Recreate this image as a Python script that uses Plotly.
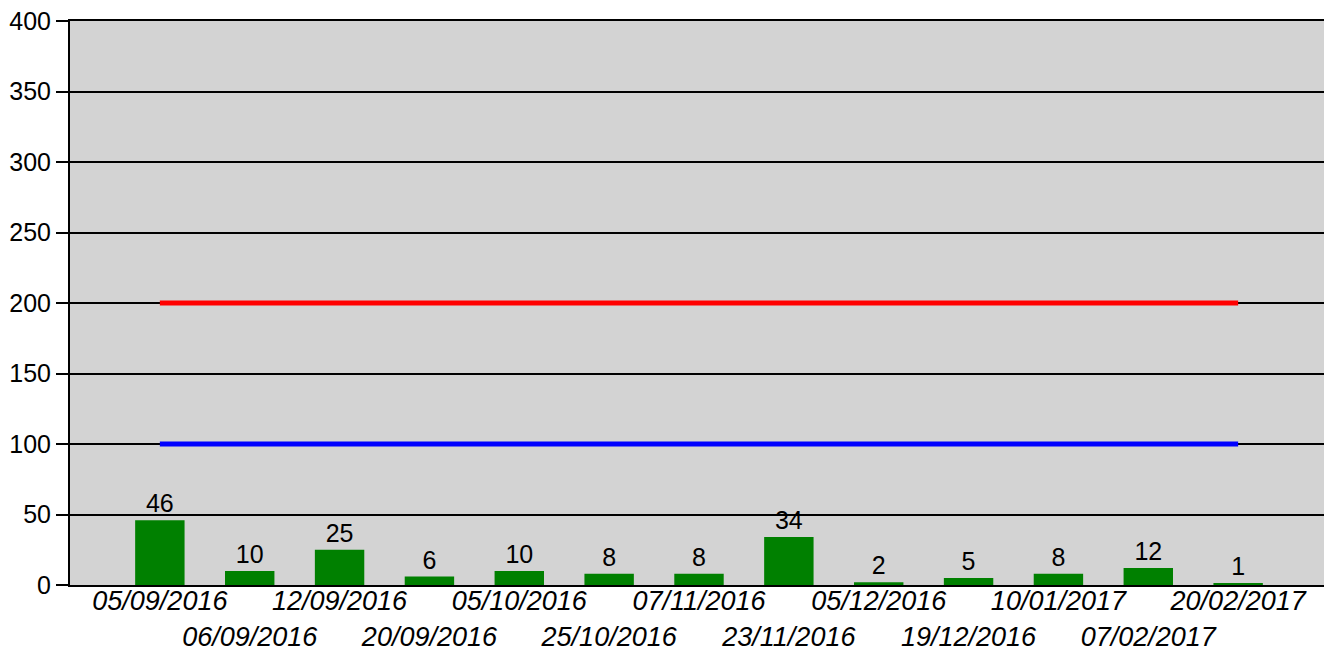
import plotly.graph_objects as go

dates = ["05/09/2016", "06/09/2016", "12/09/2016", "20/09/2016", "05/10/2016",
         "25/10/2016", "07/11/2016", "23/11/2016", "05/12/2016", "19/12/2016",
         "10/01/2017", "07/02/2017", "20/02/2017"]
counts = [46, 10, 25, 6, 10, 8, 8, 34, 2, 5, 8, 12, 1]
upper_limit = [200] * len(dates)
lower_limit = [100] * len(dates)
y_ticks = [0, 50, 100, 150, 200, 250, 300, 350, 400]

idx = list(range(len(dates)))
FONT = "Liberation Sans, Arial, sans-serif"

fig = go.Figure()
fig.add_trace(go.Bar(x=idx, y=counts, width=0.55, marker=dict(color="#008000", line=dict(width=0)),
                     text=[str(c) for c in counts], textposition="outside",
                     textfont=dict(size=25, color="black", family=FONT), cliponaxis=False))
fig.add_trace(go.Scatter(x=idx, y=upper_limit, mode="lines", line=dict(color="#ff0000", width=5)))
fig.add_trace(go.Scatter(x=idx, y=lower_limit, mode="lines", line=dict(color="#0000ff", width=5)))

even = [i for i in idx if i % 2 == 0]
odd = [i for i in idx if i % 2 == 1]

# page body has an 8px margin, so the figure is sized/offset to compensate
fig.update_layout(
    width=1324, height=641,
    margin=dict(l=62, r=4, t=13, b=64),
    paper_bgcolor="white", plot_bgcolor="#d3d3d3",
    showlegend=False,
    font=dict(family=FONT, size=25, color="black"),
    xaxis=dict(range=[-1, 13], tickmode="array", tickvals=even, automargin=False,
               ticktext=[dates[i] for i in even], showgrid=False, zeroline=False,
               showline=True, linecolor="black", linewidth=2, mirror=True,
               ticklabelstandoff=-9, ticklabeloverflow="allow",
               tickfont=dict(size=27, style="italic", family=FONT), ticks=""),
    xaxis2=dict(range=[-1, 13], overlaying="x", side="bottom", tickmode="array", tickvals=odd,
                ticktext=[dates[i] for i in odd], showgrid=False, zeroline=False, automargin=False,
                showline=False, ticklabelstandoff=33, ticklabeloverflow="allow",
                tickfont=dict(size=27, style="italic", family=FONT), ticks=""),
    yaxis=dict(range=[0, 400], tickmode="array", tickvals=y_ticks, showgrid=True, automargin=False,
               gridcolor="black", gridwidth=2, zeroline=False, showline=True,
               linecolor="black", linewidth=2, mirror=True, ticklabeloverflow="allow",
               ticks="outside", ticklen=12, tickwidth=2, tickcolor="black",
               tickfont=dict(size=25, family=FONT)),
)
fig.add_trace(go.Scatter(x=[odd[0]], y=[0], xaxis="x2", mode="markers", marker=dict(opacity=0),
                         hoverinfo="skip"))
fig.write_html("out.html")
